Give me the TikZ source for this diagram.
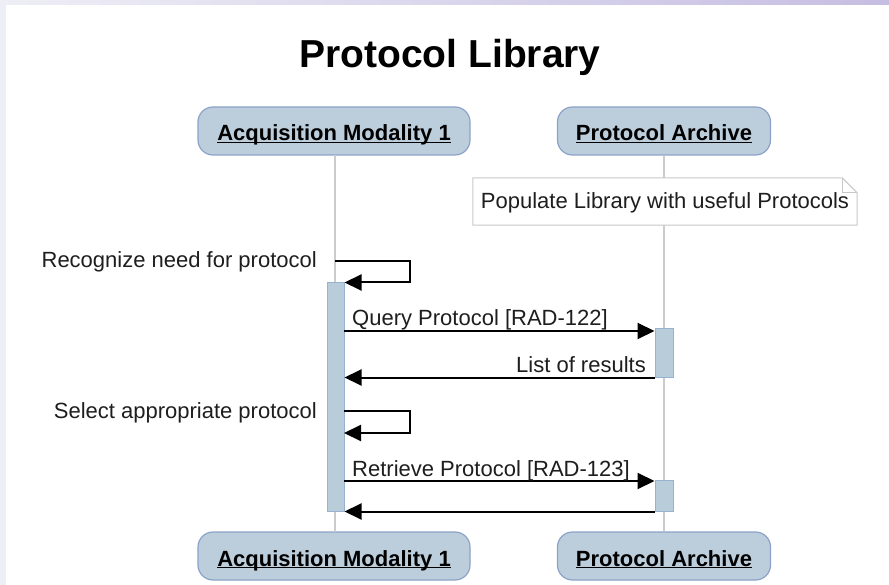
\documentclass[tikz,border=0pt]{standalone}
\usepackage{fontspec}
\setmainfont{Liberation Sans}
\usetikzlibrary{arrows.meta,calc}
\definecolor{headfill}{RGB}{188,206,220}
\definecolor{headline}{RGB}{140,162,200}
\definecolor{actfill}{RGB}{185,204,218}
\definecolor{actline}{RGB}{150,178,204}
\definecolor{lifegray}{RGB}{204,204,204}
\definecolor{notegray}{RGB}{200,200,200}
\definecolor{bgleft}{RGB}{238,238,246}
\definecolor{bgright}{RGB}{198,190,226}
\definecolor{txt}{RGB}{30,30,30}
\newcommand\ulbox[1]{\setbox0\hbox{#1}\rlap{\rule[-2pt]{\wd0}{1.3pt}}\box0}
\tikzset{
  head/.style={draw=headline, line width=1.2pt, fill=headfill, rounded corners=15pt,
    minimum height=48pt, inner sep=0pt, text height=20pt, text depth=0pt,
    font=\fontsize{22}{25}\selectfont\bfseries, text=black},
  life/.style={draw=lifegray, line width=1.2pt},
  act/.style={draw=actline, line width=1pt, fill=actfill, inner sep=0pt},
  msg/.style={draw=black, line width=2pt, -{Triangle[length=17pt,width=16pt]}},
  lbl/.style={font=\fontsize{22}{25}\selectfont, text=txt, inner sep=0pt},
  notebox/.style={minimum width=384pt, minimum height=47pt, inner sep=0pt,
    text height=15pt, text depth=0pt, font=\fontsize{22}{25}\selectfont, text=txt},
}
\begin{document}
\begin{tikzpicture}[x=1pt,y=-1pt]
\useasboundingbox (0,0) rectangle (889,585);
% background frame
\fill[bgleft] (0,0) rectangle (889,585);
\shade[left color=bgleft, right color=bgright] (0,0) rectangle (889,5);
\fill[white] (6,5) rectangle (889,585);
% title
\node[font=\fontsize{39}{43}\selectfont\bfseries, inner sep=0pt, anchor=base] (title) at (450,68) {Protocol Library};
% heads
\node[head, minimum width=272pt] (m1) at (334,131) {\ulbox{Acquisition Modality 1}};
\node[head, minimum width=213pt] (a1) at (664,131) {\ulbox{Protocol Archive}};
\node[head, minimum width=272pt] (m2) at (334,556) {\ulbox{Acquisition Modality 1}};
\node[head, minimum width=213pt] (a2) at (664,556) {\ulbox{Protocol Archive}};
% lifelines
\draw[life] (335,155) coordinate (mtop) -- (335,532) coordinate (mbot);
\draw[life] (a1.south) -- (a2.north);
% note
\node[notebox] (note) at (665,201.5) {Populate Library with useful Protocols};
\fill[white] (note.north west) -- ($(note.north east)+(-15,0)$) -- ($(note.north east)+(0,15)$) -- (note.south east) -- (note.south west) -- cycle;
\draw[notegray, line width=1pt] (note.north west) -- ($(note.north east)+(-15,0)$) -- ($(note.north east)+(0,15)$) -- (note.south east) -- (note.south west) -- cycle;
\draw[notegray, line width=1pt] ($(note.north east)+(-15,0)$) -- ($(note.north east)+(-15,15)$) -- ($(note.north east)+(0,15)$);
\node[notebox] at (note) {Populate Library with useful Protocols};
% activations
\node[act, minimum width=17pt, minimum height=228pt] (mact) at (335.5,397) {};
\node[act, minimum width=18pt, minimum height=48pt] (aact1) at (664,353) {};
\node[act, minimum width=18pt, minimum height=31pt] (aact2) at (664,495.5) {};
% self message 1
\coordinate (s1) at (335,261);
\coordinate (s1r) at (410,261);
\draw[msg] (s1) -- (s1r) |- (mact.north east);
\node[lbl, anchor=base east] (l1) at (317,268) {Recognize need for protocol};
% query
\coordinate (q1) at (344,331);
\draw[msg] (q1) -- (q1 -| aact1.west);
\node[lbl, anchor=base west] (l2) at (352,326) {Query Protocol [RAD-122]};
% list of results
\draw[msg] (aact1.south west) -- (aact1.south west -| mact.east);
\node[lbl, anchor=base east] (l3) at (646,372) {List of results};
% self message 2
\coordinate (s2) at (344,411);
\coordinate (s2r) at (410,411);
\coordinate (s2e) at (344,433);
\draw[msg] (s2) -- (s2r) |- (s2e);
\node[lbl, anchor=base east] (l4) at (317,418) {Select appropriate protocol};
% retrieve
\coordinate (r1) at (344,481);
\draw[msg] (r1) -- (r1 -| aact2.west);
\node[lbl, anchor=base west] (l5) at (352,476) {Retrieve Protocol [RAD-123]};
% return
\draw[msg] (aact2.south west) -- (aact2.south west -| mact.east);
\end{tikzpicture}
\end{document}
